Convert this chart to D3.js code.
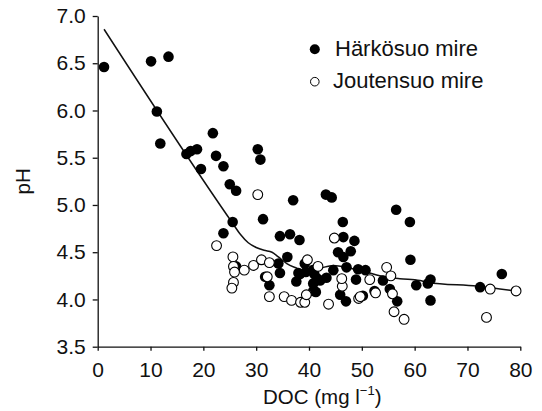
<!DOCTYPE html>
<html>
<head>
<meta charset="utf-8">
<script src="https://cdn.jsdelivr.net/npm/d3@7"></script>
<style>
  body { margin: 0; background: #fff; }
  svg { font-family: "Liberation Sans", Arial, sans-serif; }
</style>
</head>
<body>
<script>
// Härkösuo mire (filled) : [DOC, pH]
const harkosuo = [
  [1.2, 6.46], [10.1, 6.52], [13.4, 6.57], [11.2, 5.99], [11.85, 5.65],
  [16.8, 5.54], [17.6, 5.57], [18.8, 5.59], [19.55, 5.38], [21.8, 5.76],
  [22.4, 5.52], [23.8, 5.41], [25.0, 5.22], [26.2, 5.15], [30.3, 5.59],
  [30.8, 5.48], [23.8, 4.70], [25.55, 4.82], [31.3, 4.85], [26.2, 4.35],
  [31.7, 4.24], [32.5, 4.15], [37.0, 5.05], [34.5, 4.67], [36.4, 4.69],
  [38.2, 4.63], [34.2, 4.38], [35.9, 4.45], [34.5, 4.28], [38.0, 4.28],
  [37.6, 4.19], [43.2, 5.11], [44.3, 5.08], [56.5, 4.95], [59.1, 4.82],
  [46.4, 4.82], [46.5, 4.66], [48.6, 4.62], [45.5, 4.50], [47.9, 4.51],
  [59.2, 4.42], [46.5, 4.45], [44.6, 4.31], [47.1, 4.34], [49.3, 4.32],
  [50.7, 4.31], [76.5, 4.27], [72.4, 4.13], [63.0, 4.21], [62.5, 4.17],
  [60.3, 4.15], [63.0, 3.99], [56.7, 3.98], [55.3, 4.11], [54.0, 4.20],
  [48.9, 4.21], [52.4, 4.09], [50.2, 4.04], [45.9, 4.05], [47.0, 3.98],
  [43.3, 4.23], [41.6, 4.22], [42.1, 4.20], [41.0, 4.27], [40.7, 4.31],
  [39.2, 4.38], [39.4, 4.29], [40.8, 4.17], [40.8, 4.09], [41.3, 4.08],
  [38.3, 4.27]
];

// Joutensuo mire (open)
const joutensuo = [
  [30.3, 5.11], [22.5, 4.57], [25.6, 4.45], [25.7, 4.35], [25.9, 4.29],
  [27.75, 4.31], [29.5, 4.36], [31.0, 4.42], [25.7, 4.18], [25.4, 4.12],
  [32.5, 4.03], [32.5, 4.39], [32.1, 4.24], [35.3, 4.03], [36.7, 3.99],
  [38.4, 3.97], [39.2, 3.97], [39.5, 4.05], [39.7, 4.42], [41.7, 4.35],
  [44.8, 4.65], [54.7, 4.34], [55.5, 4.25], [74.3, 4.11], [79.2, 4.09],
  [73.6, 3.81], [58.0, 3.79], [56.1, 3.87], [55.8, 4.06], [51.5, 4.21],
  [52.6, 4.07], [49.4, 4.01], [49.7, 4.03], [43.7, 3.95], [46.3, 4.14],
  [46.2, 4.22]
];

// fitted smooth line
const fitLine = [
  [1.2, 6.86], [25.5, 4.81], [27.0, 4.69], [28.5, 4.60], [30.0, 4.55],
  [31.5, 4.52], [33.0, 4.50], [34.2, 4.45], [35.8, 4.38], [37.7, 4.33],
  [39.0, 4.30], [40.5, 4.31], [42.1, 4.33], [44.6, 4.36], [47.8, 4.33],
  [50.9, 4.29], [53.4, 4.25], [57.2, 4.22], [61.0, 4.20], [62.5, 4.18],
  [71.9, 4.14], [79.2, 4.09]
];

const xTicks = [0, 10, 20, 30, 40, 50, 60, 70, 80];
const yTicks = [3.5, 4.0, 4.5, 5.0, 5.5, 6.0, 6.5, 7.0];
const legendNames = ["Härkösuo mire", "Joutensuo mire"];

const width = 542;
const height = 411;
const margin = { top: 16, right: 21.7, bottom: 64.3, left: 97.7 };

const svg = d3.select("body").append("svg")
  .attr("width", width)
  .attr("height", height);

const x = d3.scaleLinear()
  .domain([0, 80])
  .range([margin.left, width - margin.right]);

const y = d3.scaleLinear()
  .domain([3.5, 7.0])
  .range([height - margin.bottom, margin.top]);

const xAxis = svg.append("g")
  .attr("transform", `translate(0, ${height - margin.bottom})`)
  .call(d3.axisBottom(x).tickValues(xTicks).tickFormat(d3.format("d"))
    .tickSize(4).tickSizeOuter(0).tickPadding(11));

const yAxis = svg.append("g")
  .attr("transform", `translate(${margin.left}, 0)`)
  .call(d3.axisLeft(y).tickValues(yTicks).tickFormat(d3.format(".1f"))
    .tickSize(5).tickSizeOuter(0).tickPadding(7));

[xAxis, yAxis].forEach(g => {
  g.selectAll("text").attr("font-size", 21).attr("fill", "#111")
    .attr("font-family", "Liberation Sans, Arial, sans-serif");
  g.selectAll("line, path").attr("stroke", "#111").attr("stroke-width", 1.3);
});

// axis titles
const xt = svg.append("text")
  .attr("x", 263)
  .attr("y", 404)
  .attr("font-size", 20.5)
  .attr("fill", "#111");
xt.append("tspan").text("DOC (mg l");
xt.append("tspan").attr("font-size", 13).attr("dy", -9).text("\u22121");
xt.append("tspan").attr("dy", 9).text(")");

svg.append("text")
  .attr("transform", `translate(30, ${(margin.top + height - margin.bottom) / 2}) rotate(-90)`)
  .attr("text-anchor", "middle")
  .attr("font-size", 20.5)
  .attr("fill", "#111")
  .text("pH");

// fitted line
svg.append("path")
  .datum(fitLine)
  .attr("fill", "none")
  .attr("stroke", "#111")
  .attr("stroke-width", 1.5)
  .attr("d", d3.line().x(d => x(d[0])).y(d => y(d[1])).curve(d3.curveMonotoneX));

svg.append("g").selectAll("circle")
  .data(harkosuo)
  .enter()
  .append("circle")
  .attr("cx", d => x(d[0]))
  .attr("cy", d => y(d[1]))
  .attr("r", 5.3)
  .attr("fill", "#000");

svg.append("g").selectAll("circle")
  .data(joutensuo)
  .enter()
  .append("circle")
  .attr("cx", d => x(d[0]))
  .attr("cy", d => y(d[1]))
  .attr("r", 4.9)
  .attr("fill", "#fff")
  .attr("stroke", "#000")
  .attr("stroke-width", 1.1);

// legend
const legend = svg.append("g");
legendNames.forEach((name, i) => {
  const cy = 49.3 + i * 32.4;
  legend.append("circle")
    .attr("cx", 314.8)
    .attr("cy", cy)
    .attr("r", i === 0 ? 5 : 4.3)
    .attr("fill", i === 0 ? "#000" : "#fff")
    .attr("stroke", "#000")
    .attr("stroke-width", i === 0 ? 0 : 1);
  legend.append("text")
    .attr("x", i === 0 ? 335 : 333)
    .attr("y", cy + 6.2)
    .attr("font-size", 22)
    .attr("fill", "#111")
    .text(name);
});
</script>
</body>
</html>
